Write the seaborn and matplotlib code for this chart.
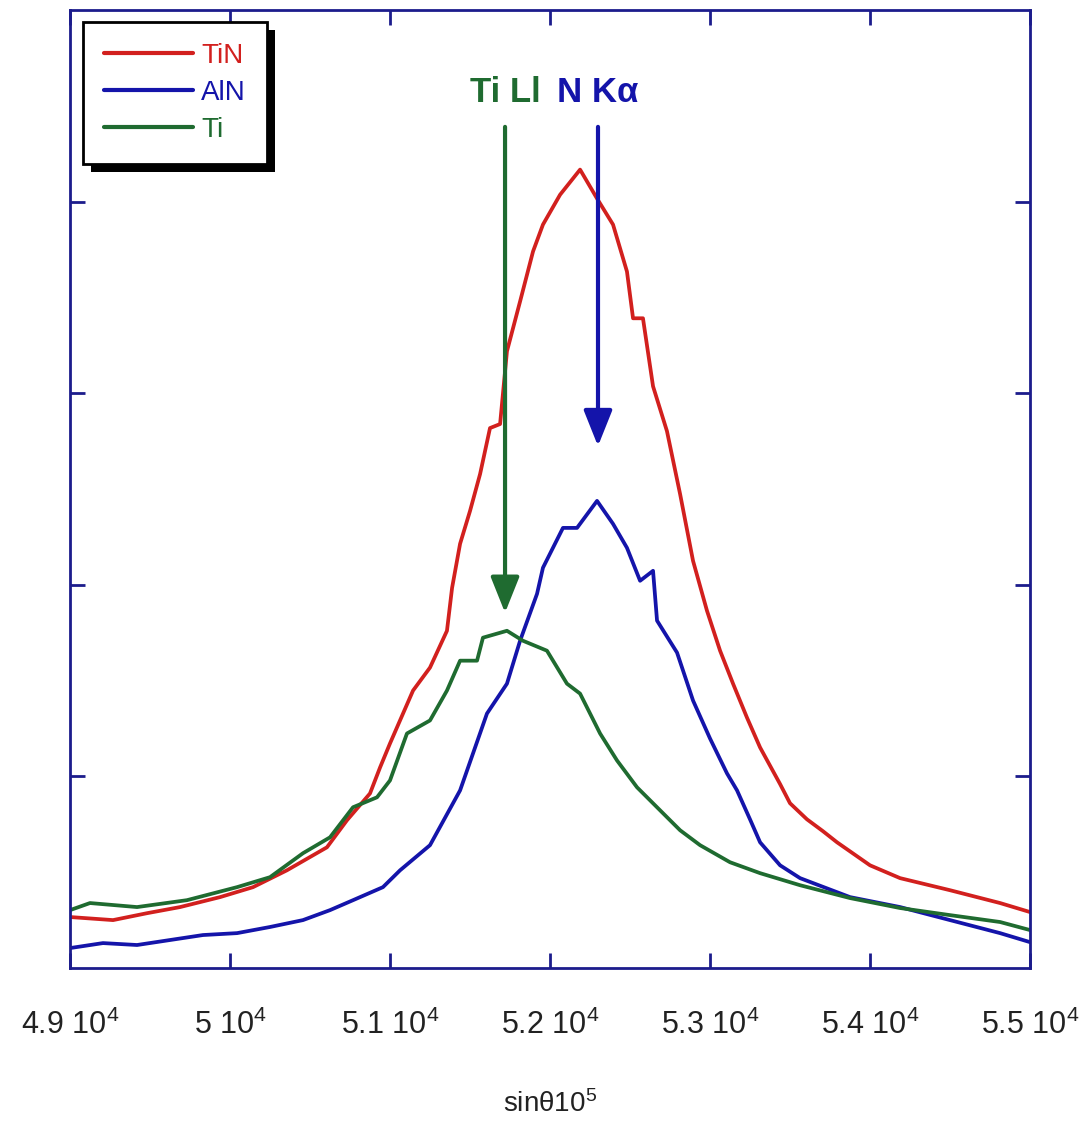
import matplotlib
matplotlib.use("Agg")
import matplotlib.pyplot as plt
import seaborn as sns
import pandas as pd
from matplotlib.patches import Rectangle

# ---------------- data (x in sin(theta)*1e5, y in arbitrary intensity units) -------------
tin_x = [49000, 49269, 49481, 49688, 49938, 50144, 50356, 50606, 50731, 50875, 50938, 51000,
         51144, 51250, 51356, 51388, 51438, 51500, 51563, 51625, 51688, 51731, 51813, 51894,
         51956, 52063, 52188, 52294, 52394, 52481, 52519, 52581, 52644, 52731, 52813, 52894,
         52981, 53063, 53144, 53231, 53313, 53438, 53500, 53606, 53706, 53794, 54000, 54188,
         54500, 54813, 55000]
tin_y = [0.266, 0.250, 0.286, 0.318, 0.370, 0.422, 0.510, 0.630, 0.771, 0.911, 1.047, 1.172,
         1.448, 1.568, 1.760, 1.984, 2.214, 2.385, 2.578, 2.818, 2.839, 3.219, 3.479, 3.740,
         3.880, 4.036, 4.167, 4.016, 3.880, 3.635, 3.391, 3.391, 3.036, 2.802, 2.474, 2.125,
         1.865, 1.656, 1.484, 1.307, 1.151, 0.960, 0.860, 0.776, 0.714, 0.656, 0.536, 0.469,
         0.406, 0.339, 0.292]

aln_x = [49000, 49206, 49419, 49625, 49831, 50044, 50250, 50456, 50625, 50769, 50956, 51063,
         51250, 51438, 51606, 51731, 51813, 51919, 51956, 52081, 52169, 52294, 52394, 52481,
         52563, 52644, 52669, 52794, 52894, 53000, 53106, 53169, 53250, 53313, 53438, 53563,
         53875, 54188, 54500, 54813, 55000]
aln_y = [0.104, 0.130, 0.120, 0.146, 0.172, 0.182, 0.214, 0.250, 0.302, 0.354, 0.422, 0.510,
         0.641, 0.927, 1.328, 1.484, 1.708, 1.953, 2.089, 2.297, 2.297, 2.438, 2.318, 2.193,
         2.021, 2.073, 1.813, 1.646, 1.396, 1.198, 1.016, 0.927, 0.776, 0.656, 0.536, 0.469,
         0.370, 0.318, 0.250, 0.182, 0.135]

ti_x = [49000, 49125, 49419, 49731, 50044, 50250, 50456, 50625, 50769, 50919, 51000, 51106,
        51250, 51356, 51438, 51544, 51581, 51731, 51831, 51981, 52106, 52188, 52313, 52419,
        52544, 52688, 52813, 52938, 53125, 53313, 53563, 53875, 54188, 54500, 54813, 55000]
ti_y = [0.302, 0.339, 0.318, 0.354, 0.422, 0.474, 0.599, 0.682, 0.839, 0.891, 0.979, 1.224,
        1.292, 1.448, 1.604, 1.604, 1.724, 1.760, 1.708, 1.656, 1.484, 1.432, 1.224, 1.083,
        0.943, 0.823, 0.719, 0.641, 0.552, 0.495, 0.432, 0.365, 0.313, 0.276, 0.240, 0.198]

series_names = ["TiN", "AlN", "Ti"]
series_colors = ["#d2201e", "#1414aa", "#1f6b30"]

x_ticks = [49000, 50000, 51000, 52000, 53000, 54000, 55000]
x_tick_text = ["4.9", "5", "5.1", "5.2", "5.3", "5.4", "5.5"]
y_ticks = [1, 2, 3, 4]

# peak markers (line label, position, arrow tip)
peak_labels = ["Ti Ll", "N K\u03b1"]
peak_x = [51719, 52300]
peak_tip = [1.854, 2.724]
peak_colors = ["#1f6b30", "#1414aa"]
arrow_top = 4.39
label_y = 4.57

# ---------------- style ----------------
sns.set_theme(style="white")
plt.rcParams['font.family'] = ['Liberation Sans', 'DejaVu Sans']
plt.rcParams['mathtext.fontset'] = 'custom'
plt.rcParams['mathtext.rm'] = 'Liberation Sans'
plt.rcParams['mathtext.it'] = 'Liberation Sans:italic'
plt.rcParams['mathtext.bf'] = 'Liberation Sans:bold'

W, H = 1086, 1132
fig = plt.figure(figsize=(W / 100, H / 100), dpi=100)
fig.patch.set_facecolor("white")
ax = fig.add_axes([70 / W, 1 - 968 / H, 960 / W, 958 / H])
ax.set_facecolor("white")

for name, xs, ys, col in zip(series_names, [tin_x, aln_x, ti_x], [tin_y, aln_y, ti_y], series_colors):
    df = pd.DataFrame({"x": xs, "y": ys})
    sns.lineplot(data=df, x="x", y="y", color=col, linewidth=2.7, label=name,
                 ax=ax, sort=False, estimator=None)

ax.set_xlim(49000, 55000)
ax.set_ylim(0, 5)
ax.set_xticks(x_ticks)
ax.set_xticklabels([r"$\mathregular{%s\ 10^{4}}$" % t for t in x_tick_text])
ax.set_yticks(y_ticks)
ax.set_ylabel("")

navy = "#1c1c8c"
for s in ax.spines.values():
    s.set_visible(True)
    s.set_color(navy)
    s.set_linewidth(2)
ax.tick_params(axis="both", direction="in", length=11, width=2, color=navy,
               top=True, right=True, bottom=True, left=True)
ax.tick_params(axis="x", labelsize=22, pad=30, labelcolor="#222222")
ax.tick_params(axis="y", labelleft=False)

ax.set_xlabel("sin\u03b810$^{\\mathregular{5}}$", fontsize=20, color="#222222")
ax.xaxis.set_label_coords(0.5, -0.128)

# peak arrows
for lab, px, tip, col in zip(peak_labels, peak_x, peak_tip, peak_colors):
    ax.annotate("", xy=(px, tip), xytext=(px, arrow_top),
                arrowprops=dict(arrowstyle="-|>,head_length=0.4,head_width=0.16",
                                mutation_scale=55, lw=3, color=col,
                                shrinkA=0, shrinkB=0))
    ax.text(px, label_y, lab, color=col, fontsize=25, fontweight="bold",
            ha="center", va="center")

# legend
leg = ax.legend(loc="upper left", bbox_to_anchor=(13 / 960, (968 - 22) / 958),
                borderaxespad=0, fontsize=20, frameon=True, fancybox=False,
                edgecolor="black", framealpha=1, handlelength=3.2, handletextpad=0.3,
                labelspacing=0.4, borderpad=0.75, labelcolor="linecolor")
leg.get_frame().set_linewidth(2)
for h in leg.get_lines():
    h.set_linewidth(3)

fig.canvas.draw()
bb = leg.get_window_extent()
inv = ax.transAxes.inverted()
(x0, y0) = inv.transform((bb.x0 + 8, bb.y0 - 8))
(x1, y1) = inv.transform((bb.x1 + 8, bb.y1 - 8))
ax.add_patch(Rectangle((x0, y0), x1 - x0, y1 - y0, transform=ax.transAxes,
                       facecolor="black", edgecolor="none", zorder=4.5, clip_on=False))

fig.savefig("out.png", dpi=100, facecolor="white")
